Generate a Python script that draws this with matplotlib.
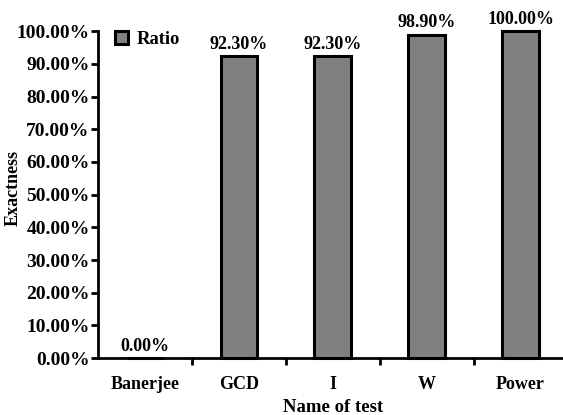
import matplotlib
matplotlib.use("Agg")
import matplotlib.pyplot as plt
import numpy as np

categories = ["Banerjee", "GCD", "I", "W", "Power"]
ratio = [0.0, 92.30, 92.30, 98.90, 100.00]
yticks = [0, 10, 20, 30, 40, 50, 60, 70, 80, 90, 100]

plt.rcParams['font.family'] = ['Liberation Serif', 'DejaVu Serif']
plt.rcParams['font.weight'] = 'bold'

fig = plt.figure(figsize=(5.63, 4.15), dpi=100)
ax = fig.add_axes([0.174, 0.137, 0.834, 0.788])

x = np.arange(len(categories))
bars = ax.bar(x, ratio, width=0.39, color='#808080', edgecolor='black', linewidth=2.2,
              label='Ratio', clip_on=False, zorder=3)
for xi, v in zip(x, ratio):
    ax.text(xi, v + 1.0, f"{v:.2f}%", ha='center', va='bottom', fontsize=13, fontweight='bold')

ax.set_xlim(-0.5, len(categories) - 0.5)
ax.set_ylim(0, 100)
ax.set_yticks(yticks)
ax.set_yticklabels([f"{t:.2f}%" for t in yticks], fontsize=14, fontweight='bold')
ax.set_xticks(x)
ax.set_xticklabels(categories, fontsize=13, fontweight='bold')
ax.tick_params(axis='x', length=0, pad=13)
ax.set_xticks(np.arange(0.5, len(categories) - 0.5, 1), minor=True)
ax.tick_params(axis='x', which='minor', length=5, width=2, direction='out')
ax.tick_params(axis='y', length=5, width=2, direction='out', pad=1)

for s in ['top', 'right']:
    ax.spines[s].set_visible(False)
ax.spines['left'].set_linewidth(2)
ax.spines['bottom'].set_linewidth(2)

ax.set_xlabel("Name of test", fontsize=13.5, fontweight='bold', labelpad=4)
ax.set_ylabel("Exactness", fontsize=13, fontweight='bold')
ax.yaxis.set_label_coords(-0.181, 0.52)
ax.yaxis.label.set_verticalalignment('center')

leg = ax.legend(loc='upper left', bbox_to_anchor=(0.0, 1.05), frameon=False, fontsize=13.3,
                handlelength=0.7, handleheight=0.7, handletextpad=0.5)

fig.savefig("out.png", dpi=100)
